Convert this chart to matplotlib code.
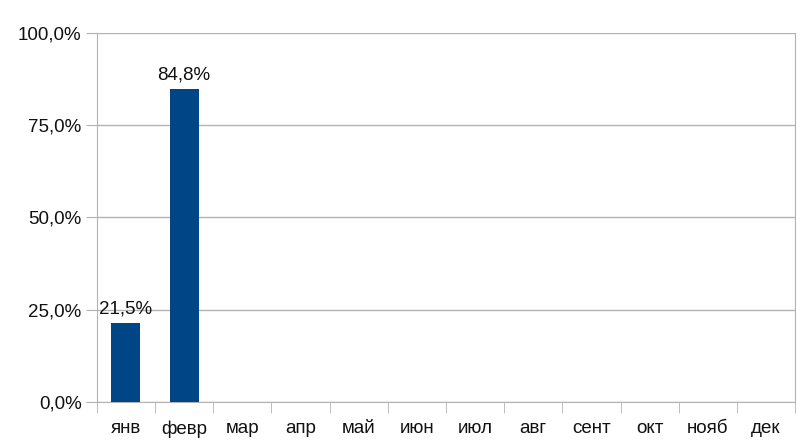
import matplotlib
matplotlib.use("Agg")
import matplotlib.pyplot as plt
import numpy as np
from matplotlib.ticker import FuncFormatter

months = ['янв', 'февр', 'мар', 'апр', 'май', 'июн', 'июл', 'авг', 'сент', 'окт', 'нояб', 'дек']
values = [21.5, 84.8]  # only two months have data
y_ticks = [0, 25, 50, 75, 100]

plt.rcParams['font.family'] = ['Liberation Sans', 'DejaVu Sans']

fig = plt.figure(figsize=(8, 4.45), dpi=100)
ax = fig.add_axes([0.121, 0.0966, 0.873, 0.8294])

x = np.arange(len(values))
bars = ax.bar(x, values, width=0.5, color='#004586', zorder=3)
for b, v in zip(bars, values):
    ax.text(b.get_x() + b.get_width() / 2, v + 1.5, f'{v:.1f}%'.replace('.', ','),
            ha='center', va='bottom', fontsize=13.5, color='#111111')

ax.set_xlim(-0.5, len(months) - 0.5)
ax.set_ylim(0, 100)
ax.set_yticks(y_ticks)
ax.yaxis.set_major_formatter(FuncFormatter(lambda v, p: f'{v:.1f}%'.replace('.', ',')))
ax.set_xticks(np.arange(len(months)))
ax.set_xticklabels(months)
ax.set_xticks(np.arange(len(months) + 1) - 0.5, minor=True)

ax.grid(axis='y', color='#b3b3b3', linewidth=1, zorder=0)
for s in ['left', 'right', 'bottom']:
    ax.spines[s].set_color('#b3b3b3')
ax.spines['top'].set_visible(False)
ax.tick_params(axis='y', length=8, color='#b3b3b3', labelsize=13.5, labelcolor='#111111', pad=3)
ax.tick_params(axis='x', which='major', length=0, labelsize=13.5, labelcolor='#111111', pad=13)
ax.tick_params(axis='x', which='minor', length=8, color='#b3b3b3')

fig.savefig('out.png', dpi=100)
